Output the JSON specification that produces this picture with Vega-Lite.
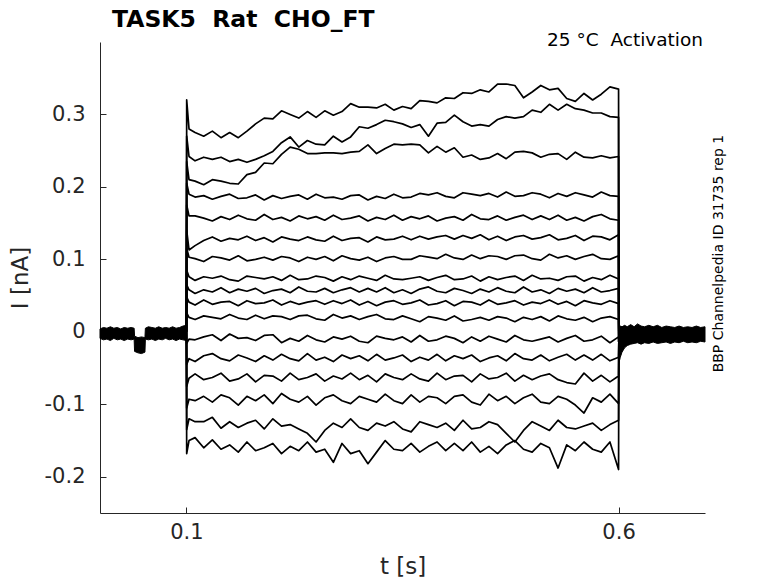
{
  "$schema": "https://vega.github.io/schema/vega-lite/v6.json",
  "autosize": "none",
  "width": 605,
  "height": 471,
  "padding": {"left": 100, "top": 42, "right": 73, "bottom": 70},
  "background": "white",
  "datasets": {
    "band": [
      {"g": 1, "t": 0.0, "hi": 0.004, "lo": -0.009},
      {"g": 1, "t": 0.004, "hi": 0.006, "lo": -0.011},
      {"g": 1, "t": 0.008, "hi": 0.005, "lo": -0.01},
      {"g": 1, "t": 0.012, "hi": 0.007, "lo": -0.012},
      {"g": 1, "t": 0.016, "hi": 0.005, "lo": -0.009},
      {"g": 1, "t": 0.02, "hi": 0.006, "lo": -0.011},
      {"g": 1, "t": 0.024, "hi": 0.004, "lo": -0.01},
      {"g": 1, "t": 0.028, "hi": 0.006, "lo": -0.012},
      {"g": 1, "t": 0.032, "hi": 0.005, "lo": -0.01},
      {"g": 1, "t": 0.036, "hi": 0.006, "lo": -0.011},
      {"g": 1, "t": 0.0395, "hi": 0.005, "lo": -0.01},
      {"g": 1, "t": 0.04, "hi": -0.006, "lo": -0.027},
      {"g": 1, "t": 0.044, "hi": -0.008, "lo": -0.029},
      {"g": 1, "t": 0.048, "hi": -0.007, "lo": -0.03},
      {"g": 1, "t": 0.052, "hi": -0.008, "lo": -0.028},
      {"g": 1, "t": 0.0525, "hi": 0.005, "lo": -0.01},
      {"g": 1, "t": 0.056, "hi": 0.007, "lo": -0.011},
      {"g": 1, "t": 0.06, "hi": 0.006, "lo": -0.01},
      {"g": 1, "t": 0.064, "hi": 0.005, "lo": -0.012},
      {"g": 1, "t": 0.068, "hi": 0.007, "lo": -0.01},
      {"g": 1, "t": 0.072, "hi": 0.005, "lo": -0.011},
      {"g": 1, "t": 0.076, "hi": 0.006, "lo": -0.009},
      {"g": 1, "t": 0.08, "hi": 0.005, "lo": -0.011},
      {"g": 1, "t": 0.084, "hi": 0.007, "lo": -0.01},
      {"g": 1, "t": 0.088, "hi": 0.005, "lo": -0.012},
      {"g": 1, "t": 0.092, "hi": 0.006, "lo": -0.01},
      {"g": 1, "t": 0.096, "hi": 0.008, "lo": -0.011},
      {"g": 1, "t": 0.1, "hi": 0.009, "lo": -0.012},
      {"g": 2, "t": 0.6, "hi": 0.008, "lo": -0.045},
      {"g": 2, "t": 0.602, "hi": 0.008, "lo": -0.035},
      {"g": 2, "t": 0.604, "hi": 0.007, "lo": -0.028},
      {"g": 2, "t": 0.607, "hi": 0.009, "lo": -0.022},
      {"g": 2, "t": 0.61, "hi": 0.007, "lo": -0.019},
      {"g": 2, "t": 0.614, "hi": 0.01, "lo": -0.017},
      {"g": 2, "t": 0.618, "hi": 0.007, "lo": -0.016},
      {"g": 2, "t": 0.622, "hi": 0.011, "lo": -0.015},
      {"g": 2, "t": 0.626, "hi": 0.008, "lo": -0.017},
      {"g": 2, "t": 0.63, "hi": 0.007, "lo": -0.015},
      {"g": 2, "t": 0.635, "hi": 0.009, "lo": -0.016},
      {"g": 2, "t": 0.64, "hi": 0.007, "lo": -0.014},
      {"g": 2, "t": 0.645, "hi": 0.009, "lo": -0.016},
      {"g": 2, "t": 0.65, "hi": 0.006, "lo": -0.015},
      {"g": 2, "t": 0.655, "hi": 0.008, "lo": -0.014},
      {"g": 2, "t": 0.66, "hi": 0.007, "lo": -0.016},
      {"g": 2, "t": 0.665, "hi": 0.006, "lo": -0.014},
      {"g": 2, "t": 0.67, "hi": 0.008, "lo": -0.015},
      {"g": 2, "t": 0.675, "hi": 0.006, "lo": -0.013},
      {"g": 2, "t": 0.68, "hi": 0.007, "lo": -0.015},
      {"g": 2, "t": 0.685, "hi": 0.006, "lo": -0.014},
      {"g": 2, "t": 0.69, "hi": 0.008, "lo": -0.015},
      {"g": 2, "t": 0.695, "hi": 0.006, "lo": -0.013},
      {"g": 2, "t": 0.7, "hi": 0.007, "lo": -0.014}
    ],
    "tr": [
      {"k":1,"t":0.1,"i":0},{"k":1,"t":0.1003,"i":0.32},{"k":1,"t":0.103,"i":0.28},
      {"k":1,"t":0.11,"i":0.275},{"k":1,"t":0.12,"i":0.27},{"k":1,"t":0.13,"i":0.277},{"k":1,"t":0.14,"i":0.268},{"k":1,"t":0.15,"i":0.275},
      {"k":1,"t":0.16,"i":0.268},{"k":1,"t":0.17,"i":0.277},{"k":1,"t":0.18,"i":0.287},{"k":1,"t":0.19,"i":0.295},{"k":1,"t":0.2,"i":0.294},
      {"k":1,"t":0.21,"i":0.305},{"k":1,"t":0.22,"i":0.3},{"k":1,"t":0.23,"i":0.295},{"k":1,"t":0.24,"i":0.304},{"k":1,"t":0.25,"i":0.296},
      {"k":1,"t":0.26,"i":0.305},{"k":1,"t":0.27,"i":0.299},{"k":1,"t":0.28,"i":0.304},{"k":1,"t":0.29,"i":0.315},{"k":1,"t":0.3,"i":0.31},
      {"k":1,"t":0.31,"i":0.31},{"k":1,"t":0.32,"i":0.309},{"k":1,"t":0.33,"i":0.314},{"k":1,"t":0.34,"i":0.306},{"k":1,"t":0.35,"i":0.311},
      {"k":1,"t":0.36,"i":0.308},{"k":1,"t":0.37,"i":0.319},{"k":1,"t":0.38,"i":0.318},{"k":1,"t":0.39,"i":0.316},{"k":1,"t":0.4,"i":0.323},
      {"k":1,"t":0.41,"i":0.322},{"k":1,"t":0.42,"i":0.33},{"k":1,"t":0.43,"i":0.329},{"k":1,"t":0.44,"i":0.334},{"k":1,"t":0.45,"i":0.331},
      {"k":1,"t":0.46,"i":0.342},{"k":1,"t":0.47,"i":0.342},{"k":1,"t":0.48,"i":0.34},{"k":1,"t":0.49,"i":0.323},{"k":1,"t":0.5,"i":0.331},
      {"k":1,"t":0.51,"i":0.34},{"k":1,"t":0.52,"i":0.334},{"k":1,"t":0.53,"i":0.336},{"k":1,"t":0.54,"i":0.322},{"k":1,"t":0.55,"i":0.318},
      {"k":1,"t":0.56,"i":0.329},{"k":1,"t":0.57,"i":0.32},{"k":1,"t":0.58,"i":0.328},{"k":1,"t":0.59,"i":0.338},{"k":1,"t":0.6,"i":0.335},
      {"k":1,"t":0.6003,"i":-0.015},

      {"k":2,"t":0.1,"i":0},{"k":2,"t":0.1003,"i":0.27},{"k":2,"t":0.103,"i":0.242},
      {"k":2,"t":0.11,"i":0.236},{"k":2,"t":0.12,"i":0.241},{"k":2,"t":0.13,"i":0.238},{"k":2,"t":0.14,"i":0.241},{"k":2,"t":0.15,"i":0.235},
      {"k":2,"t":0.16,"i":0.238},{"k":2,"t":0.17,"i":0.234},{"k":2,"t":0.18,"i":0.238},{"k":2,"t":0.19,"i":0.243},{"k":2,"t":0.2,"i":0.249},
      {"k":2,"t":0.21,"i":0.261},{"k":2,"t":0.22,"i":0.269},{"k":2,"t":0.23,"i":0.255},{"k":2,"t":0.24,"i":0.264},{"k":2,"t":0.25,"i":0.259},
      {"k":2,"t":0.26,"i":0.258},{"k":2,"t":0.27,"i":0.27},{"k":2,"t":0.28,"i":0.262},{"k":2,"t":0.29,"i":0.269},{"k":2,"t":0.3,"i":0.283},
      {"k":2,"t":0.31,"i":0.281},{"k":2,"t":0.32,"i":0.286},{"k":2,"t":0.33,"i":0.292},{"k":2,"t":0.34,"i":0.29},{"k":2,"t":0.35,"i":0.287},
      {"k":2,"t":0.36,"i":0.282},{"k":2,"t":0.37,"i":0.286},{"k":2,"t":0.38,"i":0.27},{"k":2,"t":0.39,"i":0.288},{"k":2,"t":0.4,"i":0.289},
      {"k":2,"t":0.41,"i":0.299},{"k":2,"t":0.42,"i":0.29},{"k":2,"t":0.43,"i":0.284},{"k":2,"t":0.44,"i":0.286},{"k":2,"t":0.45,"i":0.284},
      {"k":2,"t":0.46,"i":0.293},{"k":2,"t":0.47,"i":0.297},{"k":2,"t":0.48,"i":0.295},{"k":2,"t":0.49,"i":0.297},{"k":2,"t":0.5,"i":0.306},
      {"k":2,"t":0.51,"i":0.303},{"k":2,"t":0.52,"i":0.314},{"k":2,"t":0.53,"i":0.306},{"k":2,"t":0.54,"i":0.314},{"k":2,"t":0.55,"i":0.308},
      {"k":2,"t":0.56,"i":0.306},{"k":2,"t":0.57,"i":0.302},{"k":2,"t":0.58,"i":0.302},{"k":2,"t":0.59,"i":0.297},{"k":2,"t":0.6,"i":0.296},
      {"k":2,"t":0.6003,"i":-0.015},

      {"k":3,"t":0.1,"i":0},{"k":3,"t":0.1003,"i":0.235},{"k":3,"t":0.103,"i":0.21},
      {"k":3,"t":0.11,"i":0.208},{"k":3,"t":0.12,"i":0.203},{"k":3,"t":0.13,"i":0.21},{"k":3,"t":0.14,"i":0.208},{"k":3,"t":0.15,"i":0.205},
      {"k":3,"t":0.16,"i":0.204},{"k":3,"t":0.17,"i":0.217},{"k":3,"t":0.18,"i":0.22},{"k":3,"t":0.19,"i":0.233},{"k":3,"t":0.2,"i":0.232},
      {"k":3,"t":0.21,"i":0.245},{"k":3,"t":0.22,"i":0.255},{"k":3,"t":0.23,"i":0.252},{"k":3,"t":0.24,"i":0.246},{"k":3,"t":0.25,"i":0.246},
      {"k":3,"t":0.26,"i":0.247},{"k":3,"t":0.27,"i":0.247},{"k":3,"t":0.28,"i":0.246},{"k":3,"t":0.29,"i":0.248},{"k":3,"t":0.3,"i":0.249},
      {"k":3,"t":0.31,"i":0.258},{"k":3,"t":0.32,"i":0.246},{"k":3,"t":0.33,"i":0.253},{"k":3,"t":0.34,"i":0.259},{"k":3,"t":0.35,"i":0.258},
      {"k":3,"t":0.36,"i":0.259},{"k":3,"t":0.37,"i":0.258},{"k":3,"t":0.38,"i":0.247},{"k":3,"t":0.39,"i":0.256},{"k":3,"t":0.4,"i":0.248},
      {"k":3,"t":0.41,"i":0.254},{"k":3,"t":0.42,"i":0.241},{"k":3,"t":0.43,"i":0.244},{"k":3,"t":0.44,"i":0.238},{"k":3,"t":0.45,"i":0.24},
      {"k":3,"t":0.46,"i":0.246},{"k":3,"t":0.47,"i":0.239},{"k":3,"t":0.48,"i":0.248},{"k":3,"t":0.49,"i":0.249},{"k":3,"t":0.5,"i":0.247},
      {"k":3,"t":0.51,"i":0.241},{"k":3,"t":0.52,"i":0.245},{"k":3,"t":0.53,"i":0.246},{"k":3,"t":0.54,"i":0.238},{"k":3,"t":0.55,"i":0.248},
      {"k":3,"t":0.56,"i":0.241},{"k":3,"t":0.57,"i":0.24},{"k":3,"t":0.58,"i":0.243},{"k":3,"t":0.59,"i":0.24},{"k":3,"t":0.6,"i":0.242},
      {"k":3,"t":0.6003,"i":-0.015},

      {"k":4,"t":0.1,"i":0},{"k":4,"t":0.1003,"i":0.205},{"k":4,"t":0.103,"i":0.19},
      {"k":4,"t":0.11,"i":0.186},{"k":4,"t":0.12,"i":0.188},{"k":4,"t":0.13,"i":0.183},{"k":4,"t":0.14,"i":0.187},{"k":4,"t":0.15,"i":0.19},
      {"k":4,"t":0.16,"i":0.184},{"k":4,"t":0.17,"i":0.185},{"k":4,"t":0.18,"i":0.189},{"k":4,"t":0.19,"i":0.182},{"k":4,"t":0.2,"i":0.188},
      {"k":4,"t":0.21,"i":0.184},{"k":4,"t":0.22,"i":0.187},{"k":4,"t":0.23,"i":0.189},{"k":4,"t":0.24,"i":0.183},{"k":4,"t":0.25,"i":0.19},
      {"k":4,"t":0.26,"i":0.185},{"k":4,"t":0.27,"i":0.186},{"k":4,"t":0.28,"i":0.183},{"k":4,"t":0.29,"i":0.188},{"k":4,"t":0.3,"i":0.189},
      {"k":4,"t":0.31,"i":0.182},{"k":4,"t":0.32,"i":0.187},{"k":4,"t":0.33,"i":0.184},{"k":4,"t":0.34,"i":0.19},{"k":4,"t":0.35,"i":0.185},
      {"k":4,"t":0.36,"i":0.186},{"k":4,"t":0.37,"i":0.191},{"k":4,"t":0.38,"i":0.189},{"k":4,"t":0.39,"i":0.192},{"k":4,"t":0.4,"i":0.187},
      {"k":4,"t":0.41,"i":0.185},{"k":4,"t":0.42,"i":0.192},{"k":4,"t":0.43,"i":0.19},{"k":4,"t":0.44,"i":0.188},{"k":4,"t":0.45,"i":0.191},
      {"k":4,"t":0.46,"i":0.186},{"k":4,"t":0.47,"i":0.193},{"k":4,"t":0.48,"i":0.187},{"k":4,"t":0.49,"i":0.188},{"k":4,"t":0.5,"i":0.192},
      {"k":4,"t":0.51,"i":0.19},{"k":4,"t":0.52,"i":0.185},{"k":4,"t":0.53,"i":0.191},{"k":4,"t":0.54,"i":0.187},{"k":4,"t":0.55,"i":0.192},
      {"k":4,"t":0.56,"i":0.189},{"k":4,"t":0.57,"i":0.186},{"k":4,"t":0.58,"i":0.193},{"k":4,"t":0.59,"i":0.188},{"k":4,"t":0.6,"i":0.187},
      {"k":4,"t":0.6003,"i":-0.015},

      {"k":5,"t":0.1,"i":0},{"k":5,"t":0.1003,"i":0.175},{"k":5,"t":0.103,"i":0.16},
      {"k":5,"t":0.11,"i":0.16},{"k":5,"t":0.12,"i":0.157},{"k":5,"t":0.13,"i":0.153},{"k":5,"t":0.14,"i":0.159},{"k":5,"t":0.15,"i":0.155},
      {"k":5,"t":0.16,"i":0.161},{"k":5,"t":0.17,"i":0.156},{"k":5,"t":0.18,"i":0.154},{"k":5,"t":0.19,"i":0.162},{"k":5,"t":0.2,"i":0.155},
      {"k":5,"t":0.21,"i":0.158},{"k":5,"t":0.22,"i":0.153},{"k":5,"t":0.23,"i":0.16},{"k":5,"t":0.24,"i":0.156},{"k":5,"t":0.25,"i":0.159},
      {"k":5,"t":0.26,"i":0.154},{"k":5,"t":0.27,"i":0.161},{"k":5,"t":0.28,"i":0.155},{"k":5,"t":0.29,"i":0.157},{"k":5,"t":0.3,"i":0.16},
      {"k":5,"t":0.31,"i":0.153},{"k":5,"t":0.32,"i":0.158},{"k":5,"t":0.33,"i":0.155},{"k":5,"t":0.34,"i":0.161},{"k":5,"t":0.35,"i":0.154},
      {"k":5,"t":0.36,"i":0.159},{"k":5,"t":0.37,"i":0.156},{"k":5,"t":0.38,"i":0.16},{"k":5,"t":0.39,"i":0.153},{"k":5,"t":0.4,"i":0.157},
      {"k":5,"t":0.41,"i":0.159},{"k":5,"t":0.42,"i":0.154},{"k":5,"t":0.43,"i":0.162},{"k":5,"t":0.44,"i":0.156},{"k":5,"t":0.45,"i":0.155},
      {"k":5,"t":0.46,"i":0.16},{"k":5,"t":0.47,"i":0.154},{"k":5,"t":0.48,"i":0.158},{"k":5,"t":0.49,"i":0.161},{"k":5,"t":0.5,"i":0.155},
      {"k":5,"t":0.51,"i":0.16},{"k":5,"t":0.52,"i":0.155},{"k":5,"t":0.53,"i":0.161},{"k":5,"t":0.54,"i":0.154},{"k":5,"t":0.55,"i":0.158},
      {"k":5,"t":0.56,"i":0.153},{"k":5,"t":0.57,"i":0.159},{"k":5,"t":0.58,"i":0.162},{"k":5,"t":0.59,"i":0.156},{"k":5,"t":0.6,"i":0.154},
      {"k":5,"t":0.6003,"i":-0.015},

      {"k":6,"t":0.1,"i":0},{"k":6,"t":0.1003,"i":0.14},{"k":6,"t":0.103,"i":0.113},
      {"k":6,"t":0.11,"i":0.119},{"k":6,"t":0.12,"i":0.126},{"k":6,"t":0.13,"i":0.131},{"k":6,"t":0.14,"i":0.125},{"k":6,"t":0.15,"i":0.129},
      {"k":6,"t":0.16,"i":0.127},{"k":6,"t":0.17,"i":0.132},{"k":6,"t":0.18,"i":0.126},{"k":6,"t":0.19,"i":0.13},{"k":6,"t":0.2,"i":0.124},
      {"k":6,"t":0.21,"i":0.131},{"k":6,"t":0.22,"i":0.128},{"k":6,"t":0.23,"i":0.126},{"k":6,"t":0.24,"i":0.131},{"k":6,"t":0.25,"i":0.127},
      {"k":6,"t":0.26,"i":0.125},{"k":6,"t":0.27,"i":0.132},{"k":6,"t":0.28,"i":0.126},{"k":6,"t":0.29,"i":0.129},{"k":6,"t":0.3,"i":0.13},
      {"k":6,"t":0.31,"i":0.124},{"k":6,"t":0.32,"i":0.131},{"k":6,"t":0.33,"i":0.127},{"k":6,"t":0.34,"i":0.128},{"k":6,"t":0.35,"i":0.132},
      {"k":6,"t":0.36,"i":0.127},{"k":6,"t":0.37,"i":0.132},{"k":6,"t":0.38,"i":0.128},{"k":6,"t":0.39,"i":0.131},{"k":6,"t":0.4,"i":0.133},
      {"k":6,"t":0.41,"i":0.128},{"k":6,"t":0.42,"i":0.133},{"k":6,"t":0.43,"i":0.129},{"k":6,"t":0.44,"i":0.134},{"k":6,"t":0.45,"i":0.127},
      {"k":6,"t":0.46,"i":0.132},{"k":6,"t":0.47,"i":0.126},{"k":6,"t":0.48,"i":0.131},{"k":6,"t":0.49,"i":0.133},{"k":6,"t":0.5,"i":0.128},
      {"k":6,"t":0.51,"i":0.13},{"k":6,"t":0.52,"i":0.134},{"k":6,"t":0.53,"i":0.127},{"k":6,"t":0.54,"i":0.129},{"k":6,"t":0.55,"i":0.133},
      {"k":6,"t":0.56,"i":0.126},{"k":6,"t":0.57,"i":0.132},{"k":6,"t":0.58,"i":0.131},{"k":6,"t":0.59,"i":0.127},{"k":6,"t":0.6,"i":0.134},
      {"k":6,"t":0.6003,"i":-0.015},

      {"k":7,"t":0.1,"i":0},{"k":7,"t":0.1003,"i":0.115},{"k":7,"t":0.103,"i":0.103},
      {"k":7,"t":0.11,"i":0.101},{"k":7,"t":0.12,"i":0.097},{"k":7,"t":0.13,"i":0.104},{"k":7,"t":0.14,"i":0.102},{"k":7,"t":0.15,"i":0.099},
      {"k":7,"t":0.16,"i":0.105},{"k":7,"t":0.17,"i":0.098},{"k":7,"t":0.18,"i":0.1},{"k":7,"t":0.19,"i":0.103},{"k":7,"t":0.2,"i":0.099},
      {"k":7,"t":0.21,"i":0.104},{"k":7,"t":0.22,"i":0.102},{"k":7,"t":0.23,"i":0.097},{"k":7,"t":0.24,"i":0.103},{"k":7,"t":0.25,"i":0.1},
      {"k":7,"t":0.26,"i":0.104},{"k":7,"t":0.27,"i":0.098},{"k":7,"t":0.28,"i":0.105},{"k":7,"t":0.29,"i":0.101},{"k":7,"t":0.3,"i":0.099},
      {"k":7,"t":0.31,"i":0.103},{"k":7,"t":0.32,"i":0.097},{"k":7,"t":0.33,"i":0.102},{"k":7,"t":0.34,"i":0.104},{"k":7,"t":0.35,"i":0.1},
      {"k":7,"t":0.36,"i":0.1},{"k":7,"t":0.37,"i":0.105},{"k":7,"t":0.38,"i":0.103},{"k":7,"t":0.39,"i":0.101},{"k":7,"t":0.4,"i":0.107},
      {"k":7,"t":0.41,"i":0.102},{"k":7,"t":0.42,"i":0.1},{"k":7,"t":0.43,"i":0.106},{"k":7,"t":0.44,"i":0.101},{"k":7,"t":0.45,"i":0.105},
      {"k":7,"t":0.46,"i":0.104},{"k":7,"t":0.47,"i":0.1},{"k":7,"t":0.48,"i":0.105},{"k":7,"t":0.49,"i":0.106},{"k":7,"t":0.5,"i":0.101},
      {"k":7,"t":0.51,"i":0.099},{"k":7,"t":0.52,"i":0.107},{"k":7,"t":0.53,"i":0.102},{"k":7,"t":0.54,"i":0.105},{"k":7,"t":0.55,"i":0.1},
      {"k":7,"t":0.56,"i":0.104},{"k":7,"t":0.57,"i":0.107},{"k":7,"t":0.58,"i":0.101},{"k":7,"t":0.59,"i":0.1},{"k":7,"t":0.6,"i":0.105},
      {"k":7,"t":0.6003,"i":-0.015},

      {"k":8,"t":0.1,"i":0},{"k":8,"t":0.1003,"i":0.085},{"k":8,"t":0.103,"i":0.076},
      {"k":8,"t":0.11,"i":0.071},{"k":8,"t":0.12,"i":0.076},{"k":8,"t":0.13,"i":0.074},{"k":8,"t":0.14,"i":0.077},{"k":8,"t":0.15,"i":0.072},
      {"k":8,"t":0.16,"i":0.07},{"k":8,"t":0.17,"i":0.077},{"k":8,"t":0.18,"i":0.075},{"k":8,"t":0.19,"i":0.073},{"k":8,"t":0.2,"i":0.076},
      {"k":8,"t":0.21,"i":0.071},{"k":8,"t":0.22,"i":0.078},{"k":8,"t":0.23,"i":0.072},{"k":8,"t":0.24,"i":0.073},{"k":8,"t":0.25,"i":0.077},
      {"k":8,"t":0.26,"i":0.075},{"k":8,"t":0.27,"i":0.07},{"k":8,"t":0.28,"i":0.076},{"k":8,"t":0.29,"i":0.072},{"k":8,"t":0.3,"i":0.077},
      {"k":8,"t":0.31,"i":0.074},{"k":8,"t":0.32,"i":0.071},{"k":8,"t":0.33,"i":0.078},{"k":8,"t":0.34,"i":0.073},{"k":8,"t":0.35,"i":0.072},
      {"k":8,"t":0.36,"i":0.074},{"k":8,"t":0.37,"i":0.076},{"k":8,"t":0.38,"i":0.071},{"k":8,"t":0.39,"i":0.075},{"k":8,"t":0.4,"i":0.078},
      {"k":8,"t":0.41,"i":0.072},{"k":8,"t":0.42,"i":0.073},{"k":8,"t":0.43,"i":0.077},{"k":8,"t":0.44,"i":0.07},{"k":8,"t":0.45,"i":0.076},
      {"k":8,"t":0.46,"i":0.072},{"k":8,"t":0.47,"i":0.075},{"k":8,"t":0.48,"i":0.077},{"k":8,"t":0.49,"i":0.071},{"k":8,"t":0.5,"i":0.078},
      {"k":8,"t":0.51,"i":0.073},{"k":8,"t":0.52,"i":0.074},{"k":8,"t":0.53,"i":0.071},{"k":8,"t":0.54,"i":0.076},{"k":8,"t":0.55,"i":0.077},
      {"k":8,"t":0.56,"i":0.07},{"k":8,"t":0.57,"i":0.075},{"k":8,"t":0.58,"i":0.072},{"k":8,"t":0.59,"i":0.078},{"k":8,"t":0.6,"i":0.073},
      {"k":8,"t":0.6003,"i":-0.015},

      {"k":9,"t":0.1,"i":0},{"k":9,"t":0.1003,"i":0.065},{"k":9,"t":0.103,"i":0.058},
      {"k":9,"t":0.11,"i":0.053},{"k":9,"t":0.12,"i":0.058},{"k":9,"t":0.13,"i":0.055},{"k":9,"t":0.14,"i":0.061},{"k":9,"t":0.15,"i":0.054},
      {"k":9,"t":0.16,"i":0.059},{"k":9,"t":0.17,"i":0.056},{"k":9,"t":0.18,"i":0.06},{"k":9,"t":0.19,"i":0.053},{"k":9,"t":0.2,"i":0.057},
      {"k":9,"t":0.21,"i":0.059},{"k":9,"t":0.22,"i":0.054},{"k":9,"t":0.23,"i":0.062},{"k":9,"t":0.24,"i":0.056},{"k":9,"t":0.25,"i":0.055},
      {"k":9,"t":0.26,"i":0.06},{"k":9,"t":0.27,"i":0.054},{"k":9,"t":0.28,"i":0.058},{"k":9,"t":0.29,"i":0.061},{"k":9,"t":0.3,"i":0.055},
      {"k":9,"t":0.31,"i":0.06},{"k":9,"t":0.32,"i":0.055},{"k":9,"t":0.33,"i":0.061},{"k":9,"t":0.34,"i":0.054},{"k":9,"t":0.35,"i":0.058},
      {"k":9,"t":0.36,"i":0.053},{"k":9,"t":0.37,"i":0.059},{"k":9,"t":0.38,"i":0.062},{"k":9,"t":0.39,"i":0.056},{"k":9,"t":0.4,"i":0.054},
      {"k":9,"t":0.41,"i":0.06},{"k":9,"t":0.42,"i":0.057},{"k":9,"t":0.43,"i":0.053},{"k":9,"t":0.44,"i":0.059},{"k":9,"t":0.45,"i":0.055},
      {"k":9,"t":0.46,"i":0.061},{"k":9,"t":0.47,"i":0.056},{"k":9,"t":0.48,"i":0.054},{"k":9,"t":0.49,"i":0.062},{"k":9,"t":0.5,"i":0.055},
      {"k":9,"t":0.51,"i":0.058},{"k":9,"t":0.52,"i":0.053},{"k":9,"t":0.53,"i":0.06},{"k":9,"t":0.54,"i":0.056},{"k":9,"t":0.55,"i":0.059},
      {"k":9,"t":0.56,"i":0.054},{"k":9,"t":0.57,"i":0.061},{"k":9,"t":0.58,"i":0.055},{"k":9,"t":0.59,"i":0.057},{"k":9,"t":0.6,"i":0.06},
      {"k":9,"t":0.6003,"i":-0.015},

      {"k":10,"t":0.1,"i":0},{"k":10,"t":0.1003,"i":0.048},{"k":10,"t":0.103,"i":0.041},
      {"k":10,"t":0.11,"i":0.037},{"k":10,"t":0.12,"i":0.044},{"k":10,"t":0.13,"i":0.038},{"k":10,"t":0.14,"i":0.041},{"k":10,"t":0.15,"i":0.042},
      {"k":10,"t":0.16,"i":0.036},{"k":10,"t":0.17,"i":0.043},{"k":10,"t":0.18,"i":0.039},{"k":10,"t":0.19,"i":0.04},{"k":10,"t":0.2,"i":0.044},
      {"k":10,"t":0.21,"i":0.037},{"k":10,"t":0.22,"i":0.042},{"k":10,"t":0.23,"i":0.038},{"k":10,"t":0.24,"i":0.041},{"k":10,"t":0.25,"i":0.043},
      {"k":10,"t":0.26,"i":0.038},{"k":10,"t":0.27,"i":0.043},{"k":10,"t":0.28,"i":0.039},{"k":10,"t":0.29,"i":0.044},{"k":10,"t":0.3,"i":0.037},
      {"k":10,"t":0.31,"i":0.042},{"k":10,"t":0.32,"i":0.036},{"k":10,"t":0.33,"i":0.041},{"k":10,"t":0.34,"i":0.043},{"k":10,"t":0.35,"i":0.038},
      {"k":10,"t":0.36,"i":0.04},{"k":10,"t":0.37,"i":0.044},{"k":10,"t":0.38,"i":0.037},{"k":10,"t":0.39,"i":0.039},{"k":10,"t":0.4,"i":0.043},
      {"k":10,"t":0.41,"i":0.036},{"k":10,"t":0.42,"i":0.042},{"k":10,"t":0.43,"i":0.041},{"k":10,"t":0.44,"i":0.037},{"k":10,"t":0.45,"i":0.044},
      {"k":10,"t":0.46,"i":0.038},{"k":10,"t":0.47,"i":0.04},{"k":10,"t":0.48,"i":0.043},{"k":10,"t":0.49,"i":0.037},{"k":10,"t":0.5,"i":0.041},
      {"k":10,"t":0.51,"i":0.039},{"k":10,"t":0.52,"i":0.044},{"k":10,"t":0.53,"i":0.038},{"k":10,"t":0.54,"i":0.042},{"k":10,"t":0.55,"i":0.036},
      {"k":10,"t":0.56,"i":0.043},{"k":10,"t":0.57,"i":0.04},{"k":10,"t":0.58,"i":0.038},{"k":10,"t":0.59,"i":0.043},{"k":10,"t":0.6,"i":0.039},
      {"k":10,"t":0.6003,"i":-0.015},

      {"k":11,"t":0.1,"i":0},{"k":11,"t":0.1003,"i":0.026},{"k":11,"t":0.103,"i":0.02},
      {"k":11,"t":0.11,"i":0.017},{"k":11,"t":0.12,"i":0.022},{"k":11,"t":0.13,"i":0.02},{"k":11,"t":0.14,"i":0.018},{"k":11,"t":0.15,"i":0.024},
      {"k":11,"t":0.16,"i":0.019},{"k":11,"t":0.17,"i":0.017},{"k":11,"t":0.18,"i":0.023},{"k":11,"t":0.19,"i":0.018},{"k":11,"t":0.2,"i":0.022},
      {"k":11,"t":0.21,"i":0.021},{"k":11,"t":0.22,"i":0.017},{"k":11,"t":0.23,"i":0.022},{"k":11,"t":0.24,"i":0.023},{"k":11,"t":0.25,"i":0.018},
      {"k":11,"t":0.26,"i":0.016},{"k":11,"t":0.27,"i":0.024},{"k":11,"t":0.28,"i":0.019},{"k":11,"t":0.29,"i":0.022},{"k":11,"t":0.3,"i":0.017},
      {"k":11,"t":0.31,"i":0.021},{"k":11,"t":0.32,"i":0.024},{"k":11,"t":0.33,"i":0.018},{"k":11,"t":0.34,"i":0.017},{"k":11,"t":0.35,"i":0.022},
      {"k":11,"t":0.36,"i":0.018},{"k":11,"t":0.37,"i":0.014},{"k":11,"t":0.38,"i":0.021},{"k":11,"t":0.39,"i":0.019},{"k":11,"t":0.4,"i":0.016},
      {"k":11,"t":0.41,"i":0.022},{"k":11,"t":0.42,"i":0.015},{"k":11,"t":0.43,"i":0.017},{"k":11,"t":0.44,"i":0.02},{"k":11,"t":0.45,"i":0.016},
      {"k":11,"t":0.46,"i":0.021},{"k":11,"t":0.47,"i":0.019},{"k":11,"t":0.48,"i":0.014},{"k":11,"t":0.49,"i":0.02},{"k":11,"t":0.5,"i":0.017},
      {"k":11,"t":0.51,"i":0.021},{"k":11,"t":0.52,"i":0.015},{"k":11,"t":0.53,"i":0.022},{"k":11,"t":0.54,"i":0.018},{"k":11,"t":0.55,"i":0.016},
      {"k":11,"t":0.56,"i":0.02},{"k":11,"t":0.57,"i":0.014},{"k":11,"t":0.58,"i":0.019},{"k":11,"t":0.59,"i":0.021},{"k":11,"t":0.6,"i":0.017},
      {"k":11,"t":0.6003,"i":-0.015},

      {"k":12,"t":0.1,"i":0},{"k":12,"t":0.1003,"i":-0.016},{"k":12,"t":0.103,"i":-0.01},
      {"k":12,"t":0.11,"i":-0.011},{"k":12,"t":0.12,"i":-0.007},{"k":12,"t":0.13,"i":-0.004},{"k":12,"t":0.14,"i":-0.012},{"k":12,"t":0.15,"i":-0.003},
      {"k":12,"t":0.16,"i":-0.009},{"k":12,"t":0.17,"i":-0.008},{"k":12,"t":0.18,"i":-0.012},{"k":12,"t":0.19,"i":-0.005},{"k":12,"t":0.2,"i":-0.004},
      {"k":12,"t":0.21,"i":-0.015},{"k":12,"t":0.22,"i":-0.009},{"k":12,"t":0.23,"i":-0.013},{"k":12,"t":0.24,"i":-0.005},{"k":12,"t":0.25,"i":-0.011},
      {"k":12,"t":0.26,"i":-0.014},{"k":12,"t":0.27,"i":-0.007},{"k":12,"t":0.28,"i":-0.01},{"k":12,"t":0.29,"i":-0.006},{"k":12,"t":0.3,"i":-0.013},
      {"k":12,"t":0.31,"i":-0.015},{"k":12,"t":0.32,"i":-0.006},{"k":12,"t":0.33,"i":-0.009},{"k":12,"t":0.34,"i":-0.011},{"k":12,"t":0.35,"i":-0.007},
      {"k":12,"t":0.36,"i":-0.014},{"k":12,"t":0.37,"i":-0.005},{"k":12,"t":0.38,"i":-0.013},{"k":12,"t":0.39,"i":-0.011},{"k":12,"t":0.4,"i":-0.006},
      {"k":12,"t":0.41,"i":-0.009},{"k":12,"t":0.42,"i":-0.015},{"k":12,"t":0.43,"i":-0.007},{"k":12,"t":0.44,"i":-0.013},{"k":12,"t":0.45,"i":-0.006},
      {"k":12,"t":0.46,"i":-0.01},{"k":12,"t":0.47,"i":-0.014},{"k":12,"t":0.48,"i":-0.005},{"k":12,"t":0.49,"i":-0.011},{"k":12,"t":0.5,"i":-0.013},
      {"k":12,"t":0.51,"i":-0.01},{"k":12,"t":0.52,"i":-0.007},{"k":12,"t":0.53,"i":-0.014},{"k":12,"t":0.54,"i":-0.009},{"k":12,"t":0.55,"i":-0.005},
      {"k":12,"t":0.56,"i":-0.013},{"k":12,"t":0.57,"i":-0.011},{"k":12,"t":0.58,"i":-0.006},{"k":12,"t":0.59,"i":-0.015},{"k":12,"t":0.6,"i":-0.007},
      {"k":12,"t":0.6003,"i":-0.015},

      {"k":13,"t":0.1,"i":0},{"k":13,"t":0.1003,"i":-0.045},{"k":13,"t":0.103,"i":-0.037},
      {"k":13,"t":0.11,"i":-0.041},{"k":13,"t":0.12,"i":-0.033},{"k":13,"t":0.13,"i":-0.03},{"k":13,"t":0.14,"i":-0.037},{"k":13,"t":0.15,"i":-0.04},
      {"k":13,"t":0.16,"i":-0.032},{"k":13,"t":0.17,"i":-0.036},{"k":13,"t":0.18,"i":-0.041},{"k":13,"t":0.19,"i":-0.033},{"k":13,"t":0.2,"i":-0.039},
      {"k":13,"t":0.21,"i":-0.031},{"k":13,"t":0.22,"i":-0.037},{"k":13,"t":0.23,"i":-0.04},{"k":13,"t":0.24,"i":-0.03},{"k":13,"t":0.25,"i":-0.039},
      {"k":13,"t":0.26,"i":-0.035},{"k":13,"t":0.27,"i":-0.041},{"k":13,"t":0.28,"i":-0.032},{"k":13,"t":0.29,"i":-0.037},{"k":13,"t":0.3,"i":-0.033},
      {"k":13,"t":0.31,"i":-0.04},{"k":13,"t":0.32,"i":-0.031},{"k":13,"t":0.33,"i":-0.039},{"k":13,"t":0.34,"i":-0.036},{"k":13,"t":0.35,"i":-0.032},
      {"k":13,"t":0.36,"i":-0.041},{"k":13,"t":0.37,"i":-0.035},{"k":13,"t":0.38,"i":-0.039},{"k":13,"t":0.39,"i":-0.031},{"k":13,"t":0.4,"i":-0.04},
      {"k":13,"t":0.41,"i":-0.033},{"k":13,"t":0.42,"i":-0.037},{"k":13,"t":0.43,"i":-0.032},{"k":13,"t":0.44,"i":-0.041},{"k":13,"t":0.45,"i":-0.036},
      {"k":13,"t":0.46,"i":-0.033},{"k":13,"t":0.47,"i":-0.04},{"k":13,"t":0.48,"i":-0.03},{"k":13,"t":0.49,"i":-0.037},{"k":13,"t":0.5,"i":-0.039},
      {"k":13,"t":0.51,"i":-0.032},{"k":13,"t":0.52,"i":-0.04},{"k":13,"t":0.53,"i":-0.035},{"k":13,"t":0.54,"i":-0.031},{"k":13,"t":0.55,"i":-0.039},
      {"k":13,"t":0.56,"i":-0.032},{"k":13,"t":0.57,"i":-0.039},{"k":13,"t":0.58,"i":-0.031},{"k":13,"t":0.59,"i":-0.04},{"k":13,"t":0.6,"i":-0.035},
      {"k":13,"t":0.6003,"i":-0.015},

      {"k":14,"t":0.1,"i":0},{"k":14,"t":0.1003,"i":-0.075},{"k":14,"t":0.103,"i":-0.064},
      {"k":14,"t":0.11,"i":-0.058},{"k":14,"t":0.12,"i":-0.066},{"k":14,"t":0.13,"i":-0.063},{"k":14,"t":0.14,"i":-0.057},{"k":14,"t":0.15,"i":-0.068},
      {"k":14,"t":0.16,"i":-0.065},{"k":14,"t":0.17,"i":-0.058},{"k":14,"t":0.18,"i":-0.069},{"k":14,"t":0.19,"i":-0.06},{"k":14,"t":0.2,"i":-0.061},
      {"k":14,"t":0.21,"i":-0.068},{"k":14,"t":0.22,"i":-0.057},{"k":14,"t":0.23,"i":-0.066},{"k":14,"t":0.24,"i":-0.063},{"k":14,"t":0.25,"i":-0.058},
      {"k":14,"t":0.26,"i":-0.068},{"k":14,"t":0.27,"i":-0.061},{"k":14,"t":0.28,"i":-0.065},{"k":14,"t":0.29,"i":-0.057},{"k":14,"t":0.3,"i":-0.066},
      {"k":14,"t":0.31,"i":-0.06},{"k":14,"t":0.32,"i":-0.069},{"k":14,"t":0.33,"i":-0.058},{"k":14,"t":0.34,"i":-0.063},{"k":14,"t":0.35,"i":-0.066},
      {"k":14,"t":0.36,"i":-0.058},{"k":14,"t":0.37,"i":-0.065},{"k":14,"t":0.38,"i":-0.068},{"k":14,"t":0.39,"i":-0.057},{"k":14,"t":0.4,"i":-0.066},
      {"k":14,"t":0.41,"i":-0.061},{"k":14,"t":0.42,"i":-0.06},{"k":14,"t":0.43,"i":-0.069},{"k":14,"t":0.44,"i":-0.058},{"k":14,"t":0.45,"i":-0.065},
      {"k":14,"t":0.46,"i":-0.063},{"k":14,"t":0.47,"i":-0.057},{"k":14,"t":0.48,"i":-0.068},{"k":14,"t":0.49,"i":-0.06},{"k":14,"t":0.5,"i":-0.066},
      {"k":14,"t":0.51,"i":-0.061},{"k":14,"t":0.52,"i":-0.058},{"k":14,"t":0.53,"i":-0.066},{"k":14,"t":0.54,"i":-0.07},{"k":14,"t":0.55,"i":-0.072},
      {"k":14,"t":0.56,"i":-0.057},{"k":14,"t":0.57,"i":-0.068},{"k":14,"t":0.58,"i":-0.06},{"k":14,"t":0.59,"i":-0.069},{"k":14,"t":0.6,"i":-0.061},
      {"k":14,"t":0.6003,"i":-0.015},

      {"k":15,"t":0.1,"i":0},{"k":15,"t":0.1003,"i":-0.105},{"k":15,"t":0.103,"i":-0.093},
      {"k":15,"t":0.11,"i":-0.095},{"k":15,"t":0.12,"i":-0.089},{"k":15,"t":0.13,"i":-0.097},{"k":15,"t":0.14,"i":-0.087},{"k":15,"t":0.15,"i":-0.091},
      {"k":15,"t":0.16,"i":-0.101},{"k":15,"t":0.17,"i":-0.089},{"k":15,"t":0.18,"i":-0.095},{"k":15,"t":0.19,"i":-0.087},{"k":15,"t":0.2,"i":-0.099},
      {"k":15,"t":0.21,"i":-0.085},{"k":15,"t":0.22,"i":-0.093},{"k":15,"t":0.23,"i":-0.097},{"k":15,"t":0.24,"i":-0.089},{"k":15,"t":0.25,"i":-0.101},
      {"k":15,"t":0.26,"i":-0.091},{"k":15,"t":0.27,"i":-0.087},{"k":15,"t":0.28,"i":-0.095},{"k":15,"t":0.29,"i":-0.099},{"k":15,"t":0.3,"i":-0.089},
      {"k":15,"t":0.31,"i":-0.093},{"k":15,"t":0.32,"i":-0.097},{"k":15,"t":0.33,"i":-0.086},{"k":15,"t":0.34,"i":-0.095},{"k":15,"t":0.35,"i":-0.099},
      {"k":15,"t":0.36,"i":-0.087},{"k":15,"t":0.37,"i":-0.097},{"k":15,"t":0.38,"i":-0.089},{"k":15,"t":0.39,"i":-0.091},{"k":15,"t":0.4,"i":-0.099},
      {"k":15,"t":0.41,"i":-0.089},{"k":15,"t":0.42,"i":-0.087},{"k":15,"t":0.43,"i":-0.097},{"k":15,"t":0.44,"i":-0.101},{"k":15,"t":0.45,"i":-0.086},
      {"k":15,"t":0.46,"i":-0.095},{"k":15,"t":0.47,"i":-0.089},{"k":15,"t":0.48,"i":-0.099},{"k":15,"t":0.49,"i":-0.091},{"k":15,"t":0.5,"i":-0.086},
      {"k":15,"t":0.51,"i":-0.097},{"k":15,"t":0.52,"i":-0.099},{"k":15,"t":0.53,"i":-0.089},{"k":15,"t":0.54,"i":-0.093},{"k":15,"t":0.55,"i":-0.101},
      {"k":15,"t":0.56,"i":-0.112},{"k":15,"t":0.57,"i":-0.091},{"k":15,"t":0.58,"i":-0.097},{"k":15,"t":0.59,"i":-0.086},{"k":15,"t":0.6,"i":-0.099},
      {"k":15,"t":0.6003,"i":-0.015},

      {"k":16,"t":0.1,"i":0},{"k":16,"t":0.1003,"i":-0.135},{"k":16,"t":0.103,"i":-0.12},
      {"k":16,"t":0.11,"i":-0.124},{"k":16,"t":0.12,"i":-0.124},{"k":16,"t":0.13,"i":-0.118},{"k":16,"t":0.14,"i":-0.133},{"k":16,"t":0.15,"i":-0.124},
      {"k":16,"t":0.16,"i":-0.132},{"k":16,"t":0.17,"i":-0.126},{"k":16,"t":0.18,"i":-0.122},{"k":16,"t":0.19,"i":-0.134},{"k":16,"t":0.2,"i":-0.12},
      {"k":16,"t":0.21,"i":-0.13},{"k":16,"t":0.22,"i":-0.128},{"k":16,"t":0.23,"i":-0.134},{"k":16,"t":0.24,"i":-0.14},{"k":16,"t":0.25,"i":-0.152},
      {"k":16,"t":0.26,"i":-0.136},{"k":16,"t":0.27,"i":-0.126},{"k":16,"t":0.28,"i":-0.132},{"k":16,"t":0.29,"i":-0.12},{"k":16,"t":0.3,"i":-0.132},
      {"k":16,"t":0.31,"i":-0.136},{"k":16,"t":0.32,"i":-0.126},{"k":16,"t":0.33,"i":-0.13},{"k":16,"t":0.34,"i":-0.124},{"k":16,"t":0.35,"i":-0.134},
      {"k":16,"t":0.36,"i":-0.138},{"k":16,"t":0.37,"i":-0.124},{"k":16,"t":0.38,"i":-0.128},{"k":16,"t":0.39,"i":-0.132},{"k":16,"t":0.4,"i":-0.126},
      {"k":16,"t":0.41,"i":-0.136},{"k":16,"t":0.42,"i":-0.122},{"k":16,"t":0.43,"i":-0.134},{"k":16,"t":0.44,"i":-0.132},{"k":16,"t":0.45,"i":-0.124},
      {"k":16,"t":0.46,"i":-0.128},{"k":16,"t":0.47,"i":-0.14},{"k":16,"t":0.48,"i":-0.152},{"k":16,"t":0.49,"i":-0.136},{"k":16,"t":0.5,"i":-0.124},
      {"k":16,"t":0.51,"i":-0.13},{"k":16,"t":0.52,"i":-0.136},{"k":16,"t":0.53,"i":-0.122},{"k":16,"t":0.54,"i":-0.132},{"k":16,"t":0.55,"i":-0.134},
      {"k":16,"t":0.56,"i":-0.13},{"k":16,"t":0.57,"i":-0.126},{"k":16,"t":0.58,"i":-0.136},{"k":16,"t":0.59,"i":-0.128},{"k":16,"t":0.6,"i":-0.122},
      {"k":16,"t":0.6003,"i":-0.015},

      {"k":17,"t":0.1,"i":0},{"k":17,"t":0.1003,"i":-0.168},{"k":17,"t":0.103,"i":-0.15},
      {"k":17,"t":0.11,"i":-0.146},{"k":17,"t":0.12,"i":-0.16},{"k":17,"t":0.13,"i":-0.149},{"k":17,"t":0.14,"i":-0.162},{"k":17,"t":0.15,"i":-0.156},
      {"k":17,"t":0.16,"i":-0.166},{"k":17,"t":0.17,"i":-0.152},{"k":17,"t":0.18,"i":-0.164},{"k":17,"t":0.19,"i":-0.16},{"k":17,"t":0.2,"i":-0.154},
      {"k":17,"t":0.21,"i":-0.168},{"k":17,"t":0.22,"i":-0.158},{"k":17,"t":0.23,"i":-0.164},{"k":17,"t":0.24,"i":-0.152},{"k":17,"t":0.25,"i":-0.166},
      {"k":17,"t":0.26,"i":-0.162},{"k":17,"t":0.27,"i":-0.18},{"k":17,"t":0.28,"i":-0.154},{"k":17,"t":0.29,"i":-0.168},{"k":17,"t":0.3,"i":-0.164},
      {"k":17,"t":0.31,"i":-0.182},{"k":17,"t":0.32,"i":-0.166},{"k":17,"t":0.33,"i":-0.15},{"k":17,"t":0.34,"i":-0.162},{"k":17,"t":0.35,"i":-0.164},
      {"k":17,"t":0.36,"i":-0.154},{"k":17,"t":0.37,"i":-0.166},{"k":17,"t":0.38,"i":-0.158},{"k":17,"t":0.39,"i":-0.152},{"k":17,"t":0.4,"i":-0.164},
      {"k":17,"t":0.41,"i":-0.154},{"k":17,"t":0.42,"i":-0.164},{"k":17,"t":0.43,"i":-0.152},{"k":17,"t":0.44,"i":-0.166},{"k":17,"t":0.45,"i":-0.158},
      {"k":17,"t":0.46,"i":-0.168},{"k":17,"t":0.47,"i":-0.156},{"k":17,"t":0.48,"i":-0.15},{"k":17,"t":0.49,"i":-0.162},{"k":17,"t":0.5,"i":-0.166},
      {"k":17,"t":0.51,"i":-0.154},{"k":17,"t":0.52,"i":-0.16},{"k":17,"t":0.53,"i":-0.188},{"k":17,"t":0.54,"i":-0.156},{"k":17,"t":0.55,"i":-0.164},
      {"k":17,"t":0.56,"i":-0.152},{"k":17,"t":0.57,"i":-0.162},{"k":17,"t":0.58,"i":-0.166},{"k":17,"t":0.59,"i":-0.152},{"k":17,"t":0.6,"i":-0.19},
      {"k":17,"t":0.6003,"i":-0.015}
    ]
  },
  "layer": [
    {
      "data": {"name": "band"},
      "mark": {"type": "area", "color": "black", "stroke": "black", "strokeWidth": 1, "orient": "vertical"},
      "encoding": {
        "x": {
          "field": "t",
          "type": "quantitative",
          "scale": {"domain": [0, 0.7], "nice": false, "zero": false},
          "axis": {
            "values": [0.1, 0.6],
            "labelExpr": "'' + datum.value",
            "title": "t [s]",
            "labelPadding": 14,
            "titlePadding": 13
          }
        },
        "y": {
          "field": "hi",
          "type": "quantitative",
          "scale": {"domain": [-0.25, 0.4], "nice": false, "zero": false},
          "axis": {
            "values": [-0.2, -0.1, 0, 0.1, 0.2, 0.3],
            "labelExpr": "'' + datum.value",
            "title": "I [nA]",
            "labelPadding": 21,
            "titlePadding": 12
          }
        },
        "y2": {"field": "lo"},
        "detail": {"field": "g", "type": "nominal"}
      }
    },
    {
      "data": {"name": "tr"},
      "mark": {"type": "line", "color": "black", "strokeWidth": 1.7, "strokeJoin": "round"},
      "encoding": {
        "x": {"field": "t", "type": "quantitative"},
        "y": {"field": "i", "type": "quantitative"},
        "detail": {"field": "k", "type": "nominal"}
      }
    },
    {
      "data": {"values": [{"label": "TASK5 \u00a0Rat \u00a0CHO_FT"}]},
      "mark": {"type": "text", "align": "left", "baseline": "alphabetic", "fontSize": 23.5, "fontWeight": "bold", "font": "DejaVu Sans", "color": "black", "dx": 12, "dy": -15},
      "encoding": {
        "x": {"datum": 0, "type": "quantitative"},
        "y": {"datum": 0.4, "type": "quantitative"},
        "text": {"field": "label"}
      }
    },
    {
      "data": {"values": [{"label": "25 °C \u00a0Activation"}]},
      "mark": {"type": "text", "align": "right", "baseline": "middle", "fontSize": 18.5, "font": "DejaVu Sans", "color": "black", "dx": -2, "dy": -2},
      "encoding": {
        "x": {"datum": 0.7, "type": "quantitative"},
        "y": {"datum": 0.4, "type": "quantitative"},
        "text": {"field": "label"}
      }
    },
    {
      "data": {"values": [{"label": "BBP Channelpedia ID 31735 rep 1"}]},
      "mark": {"type": "text", "align": "center", "baseline": "middle", "angle": 270, "fontSize": 14, "font": "DejaVu Sans", "color": "black"},
      "encoding": {
        "x": {"datum": 0.716, "type": "quantitative"},
        "y": {"datum": 0.108, "type": "quantitative"},
        "text": {"field": "label"}
      }
    }
  ],
  "config": {
    "view": {"stroke": null},
    "font": "DejaVu Sans",
    "axis": {
      "grid": false,
      "domainColor": "#262626",
      "tickColor": "#262626",
      "labelColor": "#262626",
      "titleColor": "#262626",
      "labelFont": "DejaVu Sans",
      "titleFont": "DejaVu Sans",
      "labelFontSize": 21,
      "titleFontSize": 23,
      "titleFontWeight": "normal",
      "tickSize": -6,
      "domainWidth": 1,
      "tickWidth": 1
    }
  }
}
